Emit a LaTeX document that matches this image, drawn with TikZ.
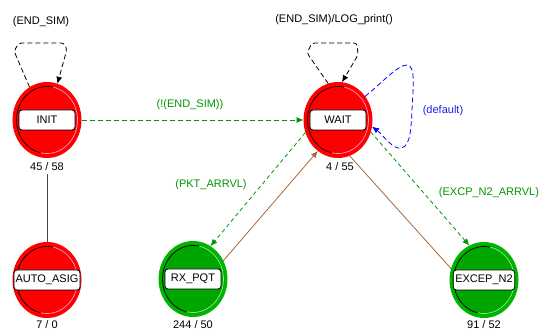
\documentclass[tikz,border=0pt]{standalone}
\usepackage{fontspec}
\setmainfont{Liberation Sans}
\usetikzlibrary{shapes.geometric,arrows.meta}
\definecolor{statered}{RGB}{255,0,0}
\definecolor{stategreen}{RGB}{0,166,0}
\definecolor{ringgreen}{RGB}{0,180,0}
\definecolor{rimpink}{RGB}{255,150,205}
\definecolor{rimmint}{RGB}{140,235,140}
\definecolor{trgreen}{RGB}{0,150,0}
\definecolor{trbrown}{RGB}{165,105,60}
\definecolor{trblue}{RGB}{0,0,255}
\definecolor{lblblue}{RGB}{30,30,230}
\definecolor{linkgray}{RGB}{70,70,70}

\begin{document}
\begin{tikzpicture}[x=1pt,y=-1pt,
  font=\fontsize{11}{13}\selectfont,
  state/.style={ellipse, minimum width=66pt, minimum height=73pt, inner sep=0pt, line width=3pt},
  redstate/.style={state, fill=statered, draw=statered},
  greenstate/.style={state, fill=stategreen, draw=ringgreen},
  namebox/.style={draw=black, line width=0.8pt, fill=white, rounded corners=3pt,
                  minimum width=56pt, minimum height=20pt, inner sep=2pt},
  count/.style={inner sep=1pt},
  tip/.style={-{Latex[length=7pt,width=6pt]}},
  dashline/.style={dash pattern=on 5pt off 3pt, line width=0.8pt},
  loopline/.style={black, dashline, tip, rounded corners=3pt},
  cond/.style={trgreen, dashline, tip},
  flow/.style={trbrown, line width=0.8pt},
  darkrim/.style={black, line width=0.7pt},
]
\useasboundingbox (0,0) rectangle (542,331);

% states
\node[redstate]   (INIT) at (47,120)  {};
\node[redstate]   (WAIT) at (338,120) {};
\node[redstate]   (AUTO) at (47,280)  {};
\node[greenstate] (RX)   at (193,279) {};
\node[greenstate] (EXC)  at (484,280) {};

% inner rims: dark on the left, light on the right
\foreach \s in {INIT,WAIT,AUTO} {
  \draw[darkrim] (\s.center) ++(-78:30.5 and 33.5)
    arc[start angle=-78, end angle=-258, x radius=30.5, y radius=33.5];
  \draw[rimpink, line width=0.7pt] (\s.center) ++(-78:30.5 and 33.5)
    arc[start angle=-78, end angle=102, x radius=30.5, y radius=33.5];
}
\foreach \s in {RX,EXC} {
  \draw[darkrim] (\s.center) ++(-78:30.5 and 33.5)
    arc[start angle=-78, end angle=-258, x radius=30.5, y radius=33.5];
  \draw[rimmint, line width=0.7pt] (\s.center) ++(-78:30.5 and 33.5)
    arc[start angle=-78, end angle=102, x radius=30.5, y radius=33.5];
}

% state names
\node[namebox] (INITname) at (INIT.center) {INIT};
\node[namebox] (WAITname) at (WAIT.center) {WAIT};
\node[namebox, minimum width=66pt, inner sep=1pt] (AUTOname) at (AUTO.center) {AUTO\_ASIG};
\node[namebox] (RXname)   at (RX.center)   {RX\_PQT};
\node[namebox] (EXCname)  at (EXC.center)  {EXCEP\_N2};

% visit counts
\node[count] (INITcount) at (47,167)  {45 / 58};
\node[count] (WAITcount) at (340,167) {4 / 55};
\node[count] (AUTOcount) at (47,325)  {7 / 0};
\node[count] (RXcount)   at (193,325) {244 / 50};
\node[count] (EXCcount)  at (484,325) {91 / 52};

% link between INIT and AUTO_ASIG
\draw[linkgray, line width=0.9pt, shorten <=2pt] (INITcount.south) -- (AUTO.north);

% self loops
\draw[loopline] (INIT.118) -- (14,51) -- (19,43) -- (64,43) -- (67,49) -- (INIT.74);
\node (lblINITloop) at (41,22) {(END\_SIM)};

\draw[loopline] (WAIT.105) -- (307,53) -- (312,43) -- (357,43) -- (358,55) -- (WAIT.84);
\node (lblWAITloop) at (334,20) {(END\_SIM)/LOG\_print()};

\draw[trblue, dashline, tip] (WAIT.41) .. controls (385,80) and (398,65) .. (407,65)
  .. controls (416,65) and (413,90) .. (412,110)
  .. controls (411,135) and (409,150) .. (398,148)
  .. controls (390,146) and (382,134) .. (WAIT.349);
\node[text=lblblue] (lbldefault) at (443,111) {(default)};

% transitions
\draw[cond] (INIT.east) -- (WAIT.west);
\node[text=trgreen] (lblnotend) at (190,105) {(!(END\_SIM))};

\draw[cond, dash pattern=on 4pt off 3pt] (WAIT.201) -- (RX.62);
\node[text=trgreen] (lblpkt) at (211,185) {(PKT\_ARRVL)};

\draw[flow, tip] (RX.31) -- (WAIT.237);

\draw[cond, dash pattern=on 4pt off 3pt] (WAIT.340) -- (EXC.113);
\node[text=trgreen] (lblexcp) at (489,193) {(EXCP\_N2\_ARRVL)};

\draw[flow] (EXC.161) -- (WAIT.288);

\end{tikzpicture}
\end{document}
